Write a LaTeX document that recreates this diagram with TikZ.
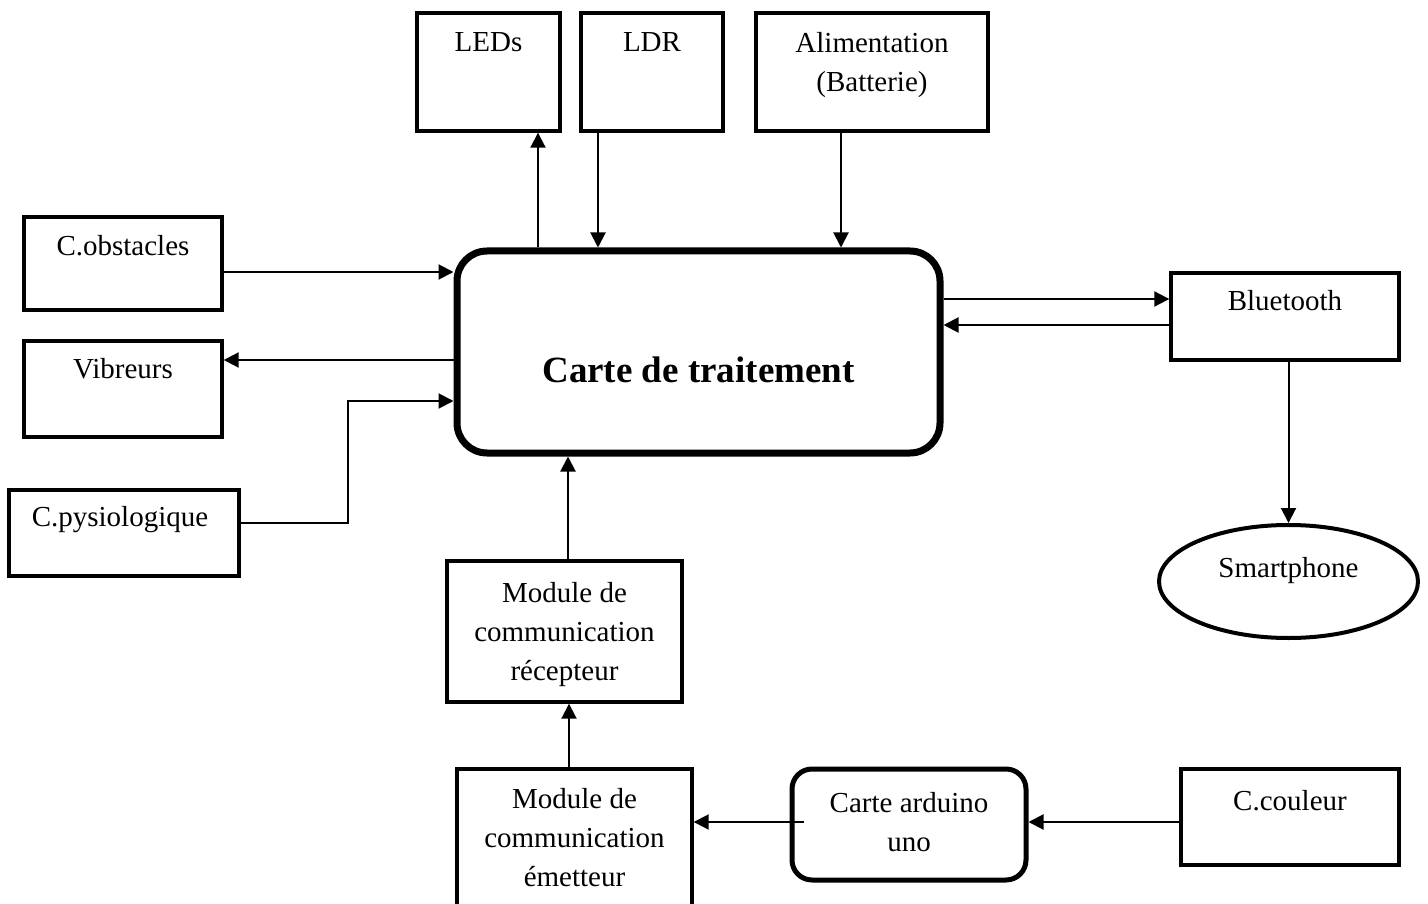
\documentclass[tikz,border=0pt]{standalone}
\usepackage{fontspec}
\setmainfont{Liberation Serif}
\usetikzlibrary{arrows.meta,shapes.geometric}
\begin{document}
\begin{tikzpicture}[x=1pt,y=-1pt,
  box/.style={draw, line width=3.4pt, rectangle, inner sep=0pt},
  rbox/.style={draw, line width=5pt, rectangle, rounded corners=20pt, inner sep=0pt},
  txt/.style={font=\fontsize{29}{39}\selectfont, align=center, inner sep=0pt, anchor=north},
  arr/.style={line width=2pt, -{Triangle[length=15pt,width=15pt]}},
]
\useasboundingbox (0,0) rectangle (1428,904);
\clip (0,0) rectangle (1428,904);
\fill[white] (0,0) rectangle (1428,904);

% central processing board
\node[draw, line width=7pt, rounded corners=30pt, minimum width=483pt, minimum height=202pt, inner sep=0pt,
  label={[anchor=north, inner sep=0pt, font=\fontsize{37}{44}\selectfont\bfseries, yshift=-109.5pt]north:Carte de traitement}]
  (central) at (698.5,352) {};

% top row
\node[box, minimum width=143pt, minimum height=118pt, label={[txt,yshift=-21.5pt]north:LEDs}] (leds) at (488.5,72) {};
\node[box, minimum width=142pt, minimum height=118pt, label={[txt,yshift=-21.5pt]north:LDR}] (ldr) at (652,72) {};
\node[box, minimum width=232pt, minimum height=118pt, label={[txt,yshift=-20.5pt]north:{Alimentation\\(Batterie)}}] (alim) at (872,72) {};

% left column
\node[box, minimum width=198pt, minimum height=93pt, label={[txt,yshift=-19.5pt]north:C.obstacles}] (obst) at (123,263.5) {};
\node[box, minimum width=198pt, minimum height=96pt, label={[txt,yshift=-18.5pt]north:Vibreurs}] (vib) at (123,389) {};
\node[box, minimum width=230pt, minimum height=86pt, label={[txt,yshift=-17.5pt,xshift=-4pt]north:C.pysiologique}] (pysio) at (124,533) {};

% right side
\node[box, minimum width=228pt, minimum height=87pt, label={[txt,yshift=-18.5pt]north:Bluetooth}] (bt) at (1285,316.5) {};
\node[draw, ellipse, line width=4pt, minimum width=259pt, minimum height=113pt, inner sep=0pt,
  label={[txt,yshift=-34pt]north:Smartphone}] (phone) at (1288.5,581.5) {};

% communication chain
\node[box, minimum width=235pt, minimum height=141pt, label={[txt,yshift=-22.5pt]north:{Module de\\communication\\récepteur}}] (recv) at (564.5,631.5) {};
\node[box, minimum width=235pt, minimum height=146pt, label={[txt,yshift=-20.5pt]north:{Module de\\communication\\émetteur}}] (emet) at (574.5,842) {};
\node[rbox, minimum width=234pt, minimum height=111pt, label={[txt,yshift=-25.5pt]north:{Carte arduino\\uno}}] (ard) at (909,824.5) {};
\node[box, minimum width=218pt, minimum height=96pt, label={[txt,yshift=-22.5pt]north:C.couleur}] (coul) at (1290,817) {};

% connectors
\draw[arr] (538,0 |- central.north) -- (538,0 |- leds.south);
\draw[arr] (598,0 |- ldr.south) -- (598,0 |- central.north);
\draw[arr] (841,0 |- alim.south) -- (841,0 |- central.north);

\draw[arr] (0,272 -| obst.east) -- (0,272 -| central.west);
\draw[arr] (0,360 -| central.west) -- (0,360 -| vib.east);
\draw[arr] (0,523 -| pysio.east) -- (348,523) -- (348,401) -- (0,401 -| central.west);

\draw[arr] (0,299 -| central.east) -- (0,299 -| bt.west);
\draw[arr] (0,325 -| bt.west) -- (0,325 -| central.east);
\draw[arr] (phone.north |- bt.south) -- (phone.north);

\draw[arr] (568,0 |- recv.north) -- (568,0 |- central.south);
\draw[arr] (569,0 |- emet.north) -- (569,0 |- recv.south);
\draw[arr, shorten <=-14pt] (0,822 -| ard.west) -- (0,822 -| emet.east);
\draw[arr] (0,822 -| coul.west) -- (0,822 -| ard.east);
\end{tikzpicture}
\end{document}
